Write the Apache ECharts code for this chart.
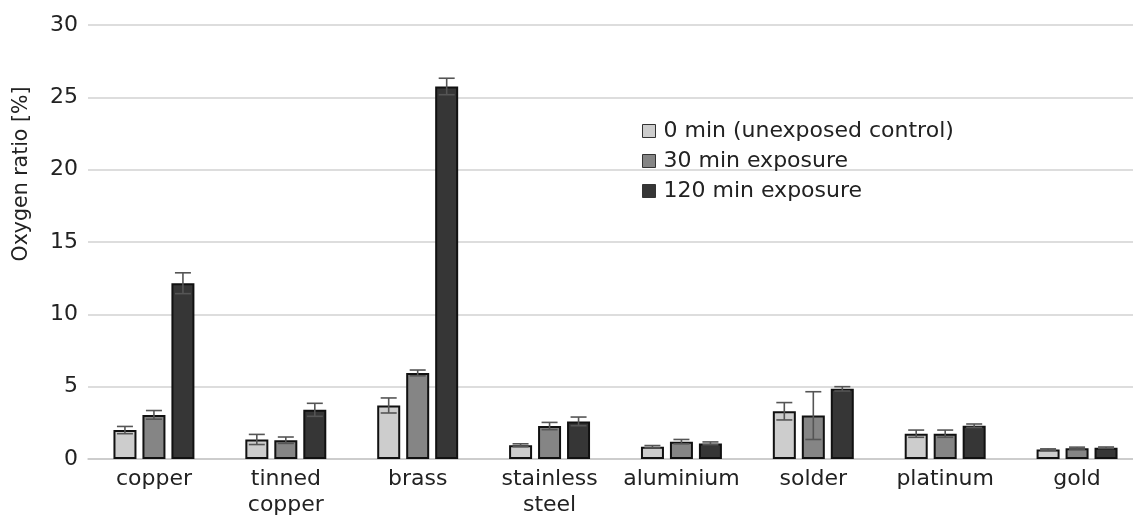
<!DOCTYPE html>
<html>
<head>
<meta charset="utf-8">
<script src="https://cdn.jsdelivr.net/npm/echarts@6/dist/echarts.min.js"></script>
<style>
  html, body { margin: 0; padding: 0; background: #fff; }
  #chart { width: 1133px; height: 515px; }
</style>
</head>
<body>
<div id="chart"></div>
<script>
// Materials tested
const categories = ['copper', 'tinned\ncopper', 'brass', 'stainless\nsteel', 'aluminium', 'solder', 'platinum', 'gold'];

// Series names
const seriesNames = ['0 min (unexposed control)', '30 min exposure', '120 min exposure'];

// Mean oxygen ratio [%] per material
const ctrlValues = [2.0, 1.35, 3.7, 0.95, 0.85, 3.3, 1.75, 0.65];
const min30Values = [3.05, 1.3, 5.95, 2.28, 1.2, 3.0, 1.75, 0.75];
const min120Values = [12.15, 3.4, 25.75, 2.6, 1.08, 4.85, 2.3, 0.78];

// Standard deviations
const ctrlErrors = [0.25, 0.35, 0.52, 0.1, 0.08, 0.6, 0.25, 0.05];
const min30Errors = [0.3, 0.22, 0.2, 0.25, 0.15, 1.65, 0.25, 0.07];
const min120Errors = [0.72, 0.45, 0.57, 0.3, 0.1, 0.15, 0.12, 0.05];

// Y axis ticks
const yMin = 0, yMax = 30, yStep = 5;

const colors = ['#cdcdcd', '#858585', '#363636'];
const valueSets = [ctrlValues, min30Values, min120Values];
const errorSets = [ctrlErrors, min30Errors, min120Errors];

const BAR_W = 23;
const BAR_STEP = 29;
const FONT = 'DejaVu Sans';
const TEXT = '#222222';

function errorSeries(idx) {
  const vals = valueSets[idx], errs = errorSets[idx];
  return {
    type: 'custom',
    name: seriesNames[idx] + ' error',
    z: 5,
    silent: true,
    data: vals.map((v, i) => [i, v - errs[i], v + errs[i]]),
    renderItem: function (params, api) {
      const c = api.value(0);
      const lo = api.coord([c, api.value(1)]);
      const hi = api.coord([c, api.value(2)]);
      const x = lo[0] + (idx - 1) * BAR_STEP;
      const half = 8;
      const style = { stroke: '#555555', lineWidth: 1.6 };
      return {
        type: 'group',
        children: [
          { type: 'line', shape: { x1: x, y1: lo[1], x2: x, y2: hi[1] }, style: style },
          { type: 'line', shape: { x1: x - half, y1: hi[1], x2: x + half, y2: hi[1] }, style: style },
          { type: 'line', shape: { x1: x - half, y1: lo[1], x2: x + half, y2: lo[1] }, style: style }
        ]
      };
    }
  };
}

const barSeries = valueSets.map((vals, idx) => ({
  type: 'bar',
  name: seriesNames[idx],
  data: vals,
  barWidth: BAR_W,
  barGap: '26%',
  itemStyle: { color: colors[idx], borderColor: '#111', borderWidth: 2 }
}));

const chart = echarts.init(document.getElementById('chart'), null, { renderer: 'canvas' });
chart.setOption({
  animation: false,
  backgroundColor: '#ffffff',
  textStyle: { fontFamily: FONT },
  grid: { left: 88, top: 25, width: 1055, bottom: 56, containLabel: false, outerBoundsMode: 'none' },
  legend: {
    data: seriesNames,
    orient: 'vertical',
    left: 637,
    top: 115,
    icon: 'rect',
    itemWidth: 13,
    itemHeight: 13,
    itemGap: 8,
    itemStyle: { borderColor: '#333', borderWidth: 1 },
    textStyle: { fontFamily: FONT, fontSize: 22, color: TEXT, lineHeight: 22, padding: [0, 0, 0, 3] }
  },
  xAxis: {
    type: 'category',
    data: categories,
    axisLine: { show: true, lineStyle: { color: '#c8c8c8', width: 1.5 } },
    axisTick: { show: false },
    axisLabel: { fontFamily: FONT, fontSize: 22, color: TEXT, margin: 7, lineHeight: 26, interval: 0 }
  },
  yAxis: {
    type: 'value',
    min: yMin,
    max: yMax,
    interval: yStep,
    axisLine: { show: false },
    axisTick: { show: false },
    axisLabel: { fontFamily: FONT, fontSize: 22, color: TEXT, margin: 10 },
    splitLine: { lineStyle: { color: '#d2d2d2', width: 1.5 } }
  },
  graphic: [{
    type: 'text',
    x: 22,
    y: 174,
    rotation: Math.PI / 2,
    style: {
      text: 'Oxygen ratio [%]', fontFamily: FONT, fontSize: 20.5, fill: TEXT,
      align: 'center', verticalAlign: 'middle'
    }
  }],
  series: barSeries.concat([errorSeries(0), errorSeries(1), errorSeries(2)])
});
</script>
</body>
</html>
